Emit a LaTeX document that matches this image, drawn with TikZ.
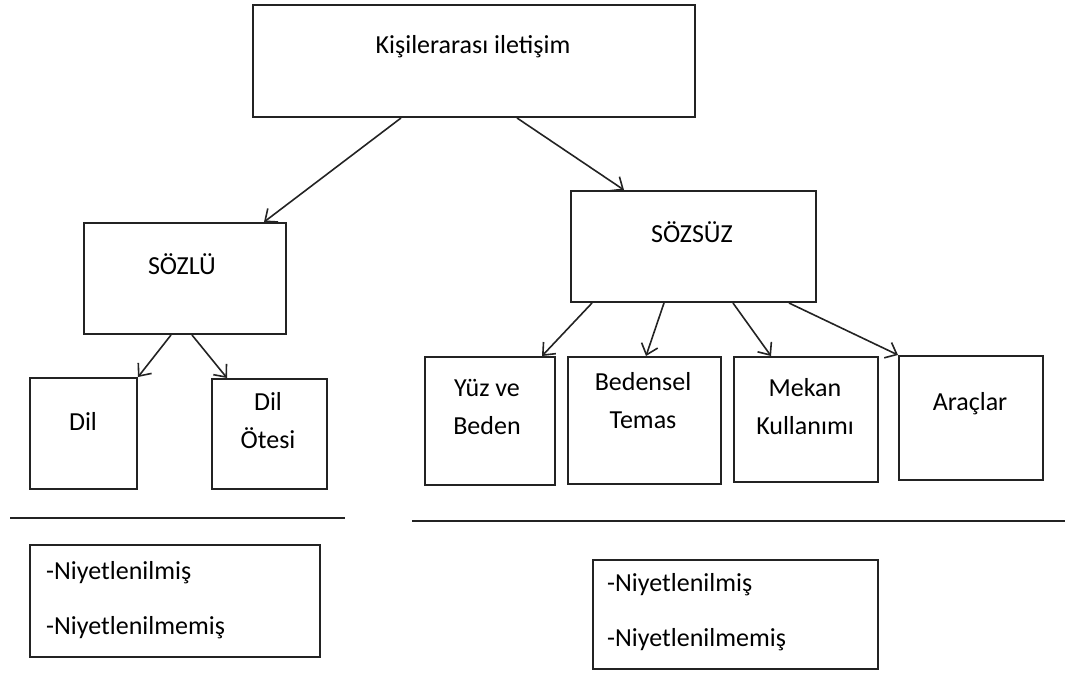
\documentclass[tikz,border=0pt]{standalone}
\usepackage{fontspec}
\setmainfont{Carlito}
\usepackage{tikz}
\usetikzlibrary{arrows.meta, positioning, calc}
\definecolor{edgegray}{RGB}{35, 35, 35}

\begin{document}
\begin{tikzpicture}[x=1pt, y=-1pt,
    box/.style={draw=edgegray, line width=2pt, rectangle, inner sep=0pt},
    lbl/.style={font=\fontsize{26}{38}\selectfont, align=center, inner sep=0pt},
    note/.style={font=\fontsize{26}{55}\selectfont, align=left, anchor=west, inner sep=0pt},
    arr/.style={draw=edgegray, line width=1.6pt, -{Straight Barb[length=10pt, width=17pt, line width=1.6pt]}},
    rule/.style={draw=edgegray, line width=2pt}]
  \useasboundingbox (0,0) rectangle (1065,673);

  % Top level
  \node[box, minimum width=442pt, minimum height=112pt] (kisi) at (474, 61) {};
  \node[lbl] (kisitxt) at (473, 47) {Kişilerarası iletişim};

  % Second level
  \node[box, minimum width=202pt, minimum height=111pt] (sozlu) at (185, 278.5) {};
  \node[lbl] (sozlutxt) at (182, 264) {SÖZLÜ};

  \node[box, minimum width=245pt, minimum height=111pt] (sozsuz) at (693.5, 246.5) {};
  \node[lbl] (sozsuztxt) at (692, 232) {SÖZSÜZ};

  % Verbal branch
  \node[box, minimum width=107pt, minimum height=111pt] (dil) at (83.5, 433.5) {};
  \node[lbl] (diltxt) at (83, 421) {Dil};

  \node[box, minimum width=115pt, minimum height=110pt] (dilotesi) at (269.5, 434) {};
  \node[lbl] (dilotesitxt) at (268, 421) {Dil\\Ötesi};

  % Nonverbal branch
  \node[box, minimum width=130pt, minimum height=128pt] (yuz) at (490, 421) {};
  \node[lbl] (yuztxt) at (487, 407) {Yüz ve\\Beden};

  \node[box, minimum width=153pt, minimum height=127pt] (temas) at (644.5, 420.5) {};
  \node[lbl] (temastxt) at (643, 401) {Bedensel\\Temas};

  \node[box, minimum width=144pt, minimum height=125pt] (mekan) at (806, 419.5) {};
  \node[lbl] (mekantxt) at (805, 406.5) {Mekan\\Kullanımı};

  \node[box, minimum width=144pt, minimum height=124pt] (arac) at (971, 418) {};
  \node[lbl] (aractxt) at (970, 404) {Araçlar};

  % Connectors
  \draw[arr] ([xshift=149pt]kisi.south west) -- ([xshift=181pt]sozlu.north west);
  \draw[arr] ([xshift=265pt]kisi.south west) -- ([xshift=54pt]sozsuz.north west);

  \draw[arr] ([xshift=88pt]sozlu.south west) -- (dil.north east);
  \draw[arr] ([xshift=109pt]sozlu.south west) -- ([xshift=16pt]dilotesi.north west);

  \draw[arr] ([xshift=22pt]sozsuz.south west) -- ([xshift=118pt]yuz.north west);
  \draw[arr] ([xshift=94pt]sozsuz.south west) -- ([xshift=79pt]temas.north west);
  \draw[arr] ([xshift=163pt]sozsuz.south west) -- ([xshift=38pt]mekan.north west);
  \draw[arr] ([xshift=219pt]sozsuz.south west) -- (arac.north west);

  % Separator rules
  \draw[rule] (10, 518) -- (345, 518);
  \draw[rule] (412, 521) -- (1065, 521);

  % Intention boxes
  \node[box, minimum width=290pt, minimum height=112pt] (niyetsol) at (175, 601) {};
  \node[note] (niyetsoltxt) at (46, 600.5) {-Niyetlenilmiş\\-Niyetlenilmemiş};

  \node[box, minimum width=285pt, minimum height=109pt] (niyetsag) at (735.5, 614.5) {};
  \node[note] (niyetsagtxt) at (607, 612.5) {-Niyetlenilmiş\\-Niyetlenilmemiş};
\end{tikzpicture}
\end{document}
